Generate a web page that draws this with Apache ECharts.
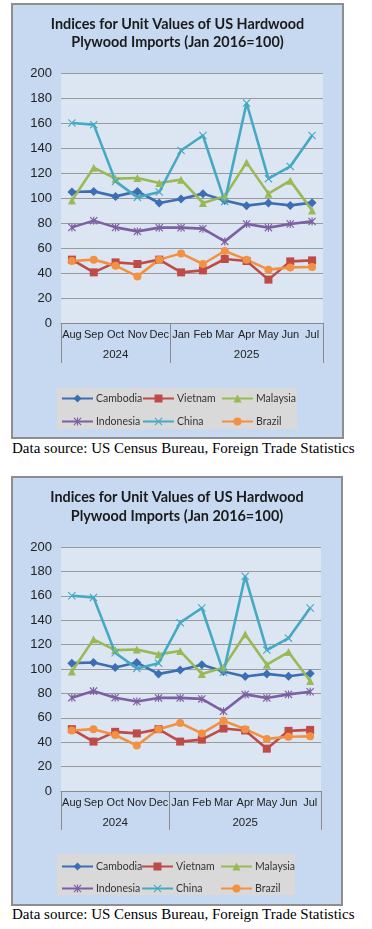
<!DOCTYPE html>
<html>
<head>
<meta charset="utf-8">
<script src="https://cdn.jsdelivr.net/npm/echarts@6/dist/echarts.min.js"></script>
<style>
  html, body { margin: 0; padding: 0; background: #ffffff; width: 372px; height: 929px; overflow: hidden; }
  .box { position: absolute; box-sizing: border-box; border: 2px solid #8e8e8e; background: #C6D9F1; }
  .box > div { width: 100%; height: 100%; }
  .src { position: absolute; left: 12px; font-family: "Liberation Serif", "DejaVu Serif", serif; font-size: 15px; line-height: 16px; color: #000; white-space: nowrap; }
</style>
</head>
<body>
<div class="box" id="box1" style="left:11px; top:3px; width:333px; height:436px;"><div id="c1"></div></div>
<div class="src" style="top:440px;">Data source: US Census Bureau, Foreign Trade Statistics</div>
<div class="box" id="box2" style="left:11px; top:476px; width:332px; height:430px;"><div id="c2"></div></div>
<div class="src" style="top:906px;">Data source: US Census Bureau, Foreign Trade Statistics</div>
<script>
// ---- data ----
const months = ['Aug', 'Sep', 'Oct', 'Nov', 'Dec', 'Jan', 'Feb', 'Mar', 'Apr', 'May', 'Jun', 'Jul'];
const yearLabels = ['', '', '2024', '', '', '', '', '', '2025', '', '', ''];
const yearStarts = [0, 5];
const cambodia  = [104.8, 105.3, 101.3, 105.3, 96.0, 99.2, 103.5, 98.0, 93.9, 96.0, 94.1, 96.3];
const vietnam   = [50.7, 40.5, 48.5, 47.2, 50.7, 40.5, 42.1, 51.2, 49.6, 34.7, 49.3, 50.1];
const malaysia  = [98.0, 124.3, 115.5, 116.0, 112.0, 114.7, 96.0, 101.3, 128.5, 103.5, 113.9, 90.1];
const indonesia = [76.5, 81.9, 76.5, 73.3, 76.3, 76.3, 75.5, 65.3, 79.2, 76.3, 79.2, 81.3];
const china     = [160.0, 158.7, 113.3, 100.5, 104.8, 138.0, 150.0, 97.3, 176.0, 115.5, 125.3, 150.0];
const brazil    = [49.6, 50.7, 45.9, 37.3, 50.7, 55.7, 47.2, 57.6, 50.7, 42.7, 44.5, 44.8];
const yTicks = { min: 0, max: 200, interval: 20 };
const titleLines = ['Indices for Unit Values of US Hardwood', 'Plywood Imports (Jan 2016=100)'];

// ---- styling ----
const X_PATH = 'path://M0,1L1,0L5,4L9,0L10,1L6,5L10,9L9,10L5,6L1,10L0,9L4,5Z';
const STAR_PATH = 'path://M0,1L1,0L5,4L9,0L10,1L6,5L10,9L9,10L5,6L1,10L0,9L4,5Z M4.3,0L5.7,0L5.7,10L4.3,10Z';
const seriesDefs = [
  { name: 'Cambodia',  data: cambodia,  color: '#3C6EB4', symbol: 'diamond',  size: 9 },
  { name: 'Vietnam',   data: vietnam,   color: '#BE4B48', symbol: 'rect',     size: 8 },
  { name: 'Malaysia',  data: malaysia,  color: '#98B954', symbol: 'triangle', size: 8 },
  { name: 'Indonesia', data: indonesia, color: '#7D5FA3', symbol: STAR_PATH,  size: 8 },
  { name: 'China',     data: china,     color: '#46A9C3', symbol: X_PATH,     size: 8 },
  { name: 'Brazil',    data: brazil,    color: '#F39142', symbol: 'circle',   size: 8 }
];
const legendCols = [['Cambodia', 'Indonesia'], ['Vietnam', 'China'], ['Malaysia', 'Brazil']];

function buildOption(L) {
  const grid = { left: L.gridLeft, top: L.gridTop, width: L.gridW, height: L.gridH,
    show: true, backgroundColor: '#DCE6F2', borderWidth: 0 };
  const legends = legendCols.map((col, i) => ({
    data: col, orient: 'vertical', left: L.legendX[i], top: L.legendTop,
    itemWidth: 31, itemHeight: 10, itemGap: L.legendGap, padding: 0,
    textStyle: { fontFamily: 'Lato, "Open Sans", sans-serif', fontSize: 10.5, color: '#333', padding: [0, 0, 0, -2] },
    selectedMode: false
  }));
  return {
    animation: false,
    backgroundColor: 'transparent',
    title: titleLines.map((t, i) => ({
      text: t, left: 'center', top: L.titleTops[i], padding: 0,
      textStyle: { fontFamily: 'Lato, "Open Sans", sans-serif', fontWeight: 'bold', fontSize: 14.4, color: '#1a1a1a' }
    })),
    graphic: [{ type: 'rect', left: L.legRect[0], top: L.legRect[1], z: -1,
      shape: { width: L.legRect[2], height: L.legRect[3] }, style: { fill: '#D9D9D9' } }],
    legend: legends,
    grid: grid,
    xAxis: [
      { type: 'category', data: months, boundaryGap: true,
        axisLine: { lineStyle: { color: '#8a8a8a', width: 1 } },
        axisTick: { show: true, length: L.tickLen, interval: (i) => yearStarts.indexOf(i) >= 0,
          lineStyle: { color: '#8a8a8a', width: 1 } },
        axisLabel: { interval: 0, margin: 6, fontFamily: '"Liberation Sans", Arial, sans-serif', fontSize: 11, color: '#222' },
        splitLine: { show: false } },
      { type: 'category', data: months, boundaryGap: true, position: 'bottom',
        axisLine: { show: false }, axisTick: { show: false },
        axisLabel: { interval: 0, margin: 26, formatter: (v, i) => yearLabels[i],
          fontFamily: '"Liberation Sans", Arial, sans-serif', fontSize: 11.5, color: '#222' } }
    ],
    yAxis: { type: 'value', min: yTicks.min, max: yTicks.max, interval: yTicks.interval,
      axisLine: { show: false }, axisTick: { show: false },
      axisLabel: { margin: 9, fontFamily: '"Liberation Sans", Arial, sans-serif', fontSize: 13, color: '#222' },
      splitLine: { lineStyle: { color: '#9a9a9a', width: 1 } } },
    series: seriesDefs.map(s => ({
      name: s.name, type: 'line', data: s.data, xAxisIndex: 0,
      symbol: s.symbol, symbolSize: s.size, showSymbol: true,
      lineStyle: { color: s.color, width: 2.6 },
      itemStyle: { color: s.color, borderColor: s.color, borderWidth: 0 }
    }))
  };
}

const layout1 = { gridLeft: 48, gridTop: 68, gridW: 262, gridH: 250, tickLen: 40,
  titleTops: [12, 30], legendX: [48, 129, 208], legendTop: 388, legendGap: 12,
  legRect: [44, 383, 240, 41] };
const layout2 = { gridLeft: 48, gridTop: 69, gridW: 260, gridH: 244, tickLen: 39,
  titleTops: [12, 31], legendX: [48, 128, 207], legendTop: 383, legendGap: 11,
  legRect: [44, 376, 238, 41] };

echarts.init(document.getElementById('c1'), null, { renderer: 'canvas' }).setOption(buildOption(layout1));
echarts.init(document.getElementById('c2'), null, { renderer: 'canvas' }).setOption(buildOption(layout2));
</script>
</body>
</html>
